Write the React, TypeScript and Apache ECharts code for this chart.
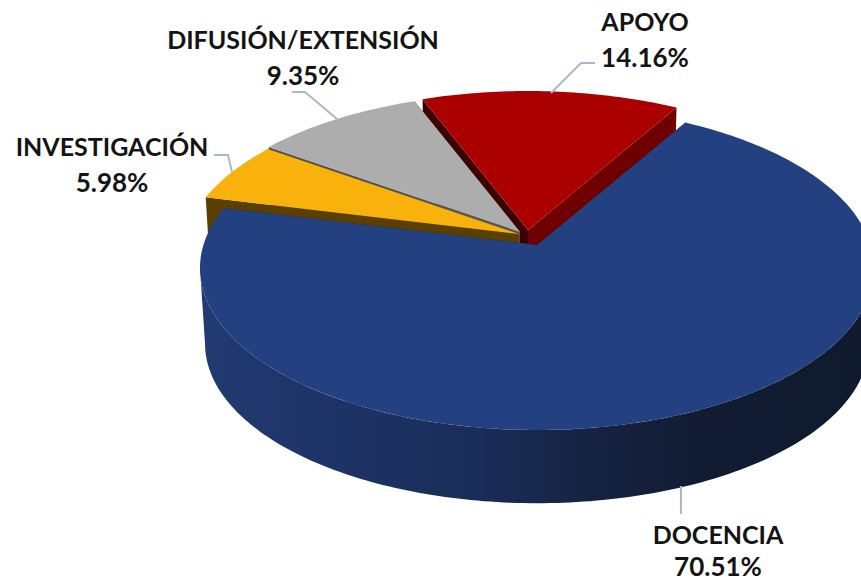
import React, { useEffect, useRef } from "react";
import * as echarts from "echarts";

// Data, in painting order (back slices first)
const categories = ["APOYO", "DIFUSIÓN/EXTENSIÓN", "INVESTIGACIÓN", "DOCENCIA"];
const shares = [14.16, 9.35, 5.98, 70.51];
const percentLabels = ["14.16%", "9.35%", "5.98%", "70.51%"];

// Styles
const topColors = ["#ab0000", "#adadad", "#f9b10b", "#234081"];
const cutHiColors = ["#6e0000", "#555555", "#5a4000", "#101a2e"];
const cutLoColors = ["#3d0000", "#555555", "#5a4000", "#101a2e"];
const apexX = [528, 520, 519, 537];
const apexY = [230, 232, 234, 245];

// Projection of the tilted disc
const START_DEG = 30;
const RX = 333.6;
const RY = 158.7;
const PERSP = 0.142;
const DEPTH = 76;
const BOTTOM_SCALE = 0.985;
// Angle where the projected disc reaches its widest point (its silhouette)
const SILHOUETTE_DEG = 98.2;

const project = (ax: number, ay: number, deg: number, s: number): number[] => {
  const t = (deg * Math.PI) / 180;
  const X = Math.sin(t);
  const Y = -Math.cos(t);
  const w = 1 - PERSP * Y;
  return [ax + (s * RX * X) / w, ay + (s * RY * Y) / w];
};

const arc = (ax: number, ay: number, a: number, b: number, s: number): number[][] => {
  const n = Math.max(8, Math.ceil(Math.abs(b - a) / 1));
  const pts: number[][] = [];
  for (let i = 0; i <= n; i++) pts.push(project(ax, ay, a + ((b - a) * i) / n, s));
  return pts;
};

const labelBlocks = [
  { i: 0, x: 645, y1: 21, y2: 57 },
  { i: 1, x: 303, y1: 39, y2: 75 },
  { i: 2, x: 112, y1: 146, y2: 182 },
  { i: 3, x: 718, y1: 534, y2: 566 },
];
const leaders = [
  [[595, 63], [581, 63], [551, 93]],
  [[292, 92], [305, 92], [337, 119]],
  [[214, 155], [228, 155], [232, 172]],
  [[681, 486], [681, 514]],
];

export default function App() {
  const ref = useRef<HTMLDivElement>(null);
  useEffect(() => {
    const chart = echarts.init(ref.current!, null, { renderer: "svg" });
    const textStyle = (text: string, x: number, y: number, size: number) => ({
      type: "text",
      z: 10,
      style: {
        text,
        x,
        y,
        align: "center",
        verticalAlign: "middle",
        fill: "#141414",
        font: `bold ${size}px Lato, "Noto Sans", sans-serif`,
      },
    });
    chart.setOption({
      animation: false,
      backgroundColor: "#ffffff",
      series: [
        {
          type: "custom",
          coordinateSystem: "none",
          silent: true,
          data: shares.map((v, i) => ({ name: categories[i], value: v })),
          renderItem: (params: any, api: any) => {
            const i = params.dataIndex;
            let cum = 0;
            for (let k = 0; k < i; k++) cum += shares[k];
            const hi = START_DEG - cum * 3.6;
            const lo = hi - (api.value(0) as number) * 3.6;
            const ax = apexX[i];
            const ay = apexY[i];
            const bx = ax;
            const by = ay + DEPTH;
            const children: any[] = [];
            const poly = (points: number[][], fill: any) => ({
              type: "polygon",
              shape: { points },
              style: { fill, stroke: "none" },
            });
            // cut faces
            children.push(
              poly(
                [project(ax, ay, hi, 1), [ax, ay], [bx, by], project(bx, by, hi, BOTTOM_SCALE)],
                cutHiColors[i],
              ),
            );
            children.push(
              poly(
                [project(ax, ay, lo, 1), [ax, ay], [bx, by], project(bx, by, lo, BOTTOM_SCALE)],
                cutLoColors[i],
              ),
            );
            // rim of the big front slice, between the two silhouette points
            if (categories[i] === "DOCENCIA") {
              const a = -360 + SILHOUETTE_DEG;
              const b = -SILHOUETTE_DEG;
              const topArc = arc(ax, ay, a, b, 1);
              const lowArc = arc(bx, by, b, a, BOTTOM_SCALE);
              children.push(
                poly(
                  topArc.concat(lowArc),
                  new echarts.graphic.LinearGradient(0, 0, 1, 0, [
                    { offset: 0, color: "#223a72" },
                    { offset: 0.15, color: "#1f3569" },
                    { offset: 0.4, color: "#1a2d59" },
                    { offset: 0.6, color: "#15223f" },
                    { offset: 0.75, color: "#111b32" },
                    { offset: 1, color: "#101a2e" },
                  ]),
                ),
              );
            }
            // top face
            children.push(poly([[ax, ay], ...arc(ax, ay, lo, hi, 1)], topColors[i]));
            return { type: "group", children };
          },
        },
      ],
      graphic: [
        ...leaders.map((points) => ({
          type: "polyline",
          z: 9,
          shape: { points },
          style: { stroke: "#a9b8cf", lineWidth: 2, fill: "none" },
        })),
        ...labelBlocks.flatMap((b) => [
          textStyle(categories[b.i], b.x, b.y1, 25),
          textStyle(percentLabels[b.i], b.x, b.y2, 26),
        ]),
      ],
    });
    return () => chart.dispose();
  }, []);
  return (
    <div
      ref={ref}
      style={{ position: "absolute", left: 0, top: 0, width: 861, height: 582, background: "#fff" }}
    />
  );
}
